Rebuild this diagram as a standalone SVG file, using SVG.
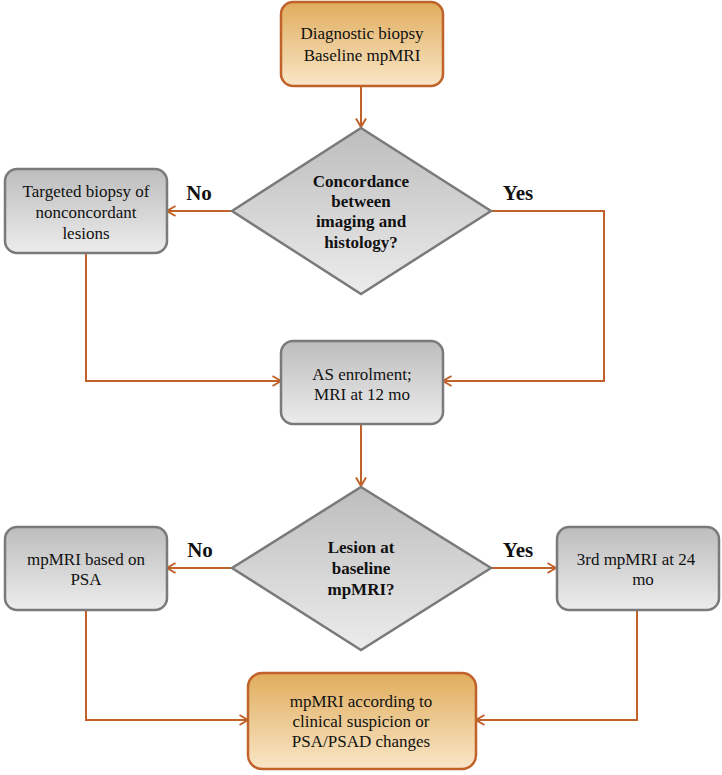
<svg xmlns="http://www.w3.org/2000/svg" width="722" height="775" viewBox="0 0 722 775">
<defs>
<linearGradient id="gGrey" x1="0" y1="0" x2="0" y2="1"><stop offset="0" stop-color="#bdbdbd"/><stop offset="1" stop-color="#ececec"/></linearGradient>
<linearGradient id="gOr" x1="0" y1="0" x2="0" y2="1"><stop offset="0" stop-color="#e0ad5c"/><stop offset="1" stop-color="#f9e6c8"/></linearGradient>
<marker id="ah" viewBox="0 0 10 12" refX="9.5" refY="6" markerWidth="10" markerHeight="12" markerUnits="userSpaceOnUse" orient="auto"><path d="M1,1 L9.5,6 L1,11" fill="none" stroke="#c0622a" stroke-width="2"/></marker>
</defs>
<g id="connectors" fill="none" stroke="#c0622a" stroke-width="2">
<path d="M361,86 V127" marker-end="url(#ah)"/>
<path d="M232,211 H167" marker-end="url(#ah)"/>
<path d="M491,211 H604 V381 H443" marker-end="url(#ah)"/>
<path d="M86,253 V381 H281" marker-end="url(#ah)"/>
<path d="M361,424 V486" marker-end="url(#ah)"/>
<path d="M232,568 H167" marker-end="url(#ah)"/>
<path d="M491,568 H556" marker-end="url(#ah)"/>
<path d="M86,610 V720 H248" marker-end="url(#ah)"/>
<path d="M637,610 V720 H476" marker-end="url(#ah)"/>
</g>
<g id="labels" fill="#111" stroke="none" text-anchor="middle" font-weight="bold" font-size="21" font-family="Times New Roman">
<text x="199" y="200">No</text>
<text x="518" y="200">Yes</text>
<text x="200" y="557">No</text>
<text x="518" y="557">Yes</text>
</g>
<g id="n-start" fill="#111" text-anchor="middle" font-size="17" font-family="Times New Roman">
<rect fill="url(#gOr)" stroke="#c0622a" stroke-width="2.5" x="281" y="2" width="162" height="84" rx="12"/>
<text x="362" y="39">Diagnostic biopsy</text>
<text x="362" y="61">Baseline mpMRI</text>
</g>
<g id="n-concord" fill="#111" text-anchor="middle" font-size="17" font-weight="bold" font-family="Times New Roman">
<polygon fill="url(#gGrey)" stroke="#7a7a7a" stroke-width="2.5" points="361,128 491,211 361,294 232,211"/>
<text x="361" y="187">Concordance</text>
<text x="361" y="207">between</text>
<text x="361" y="227">imaging and</text>
<text x="361" y="248">histology?</text>
</g>
<g id="n-targeted" fill="#111" text-anchor="middle" font-size="17" font-family="Times New Roman">
<rect fill="url(#gGrey)" stroke="#7a7a7a" stroke-width="2.5" x="5" y="169" width="162" height="84" rx="12"/>
<text x="86" y="197">Targeted biopsy of</text>
<text x="86" y="218">nonconcordant</text>
<text x="86" y="239">lesions</text>
</g>
<g id="n-as" fill="#111" text-anchor="middle" font-size="17" font-family="Times New Roman">
<rect fill="url(#gGrey)" stroke="#7a7a7a" stroke-width="2.5" x="281" y="341" width="162" height="83" rx="12"/>
<text x="362" y="380">AS enrolment;</text>
<text x="362" y="400">MRI at 12 mo</text>
</g>
<g id="n-lesion" fill="#111" text-anchor="middle" font-size="17" font-weight="bold" font-family="Times New Roman">
<polygon fill="url(#gGrey)" stroke="#7a7a7a" stroke-width="2.5" points="361,487 491,568 361,650 232,568"/>
<text x="361" y="553">Lesion at</text>
<text x="361" y="574">baseline</text>
<text x="361" y="595">mpMRI?</text>
</g>
<g id="n-psa" fill="#111" text-anchor="middle" font-size="17" font-family="Times New Roman">
<rect fill="url(#gGrey)" stroke="#7a7a7a" stroke-width="2.5" x="5" y="527" width="162" height="83" rx="12"/>
<text x="86" y="565">mpMRI based on</text>
<text x="86" y="585">PSA</text>
</g>
<g id="n-3rd" fill="#111" text-anchor="middle" font-size="17" font-family="Times New Roman">
<rect fill="url(#gGrey)" stroke="#7a7a7a" stroke-width="2.5" x="557" y="527" width="162" height="83" rx="12"/>
<text x="636" y="565">3rd mpMRI at 24</text>
<text x="643" y="585">mo</text>
</g>
<g id="n-final" fill="#111" text-anchor="middle" font-size="17" font-family="Times New Roman">
<rect fill="url(#gOr)" stroke="#c0622a" stroke-width="2.5" x="248" y="673" width="228" height="96" rx="14"/>
<text x="361" y="707">mpMRI according to</text>
<text x="361" y="727">clinical suspicion or</text>
<text x="361" y="747">PSA/PSAD changes</text>
</g>
</svg>
